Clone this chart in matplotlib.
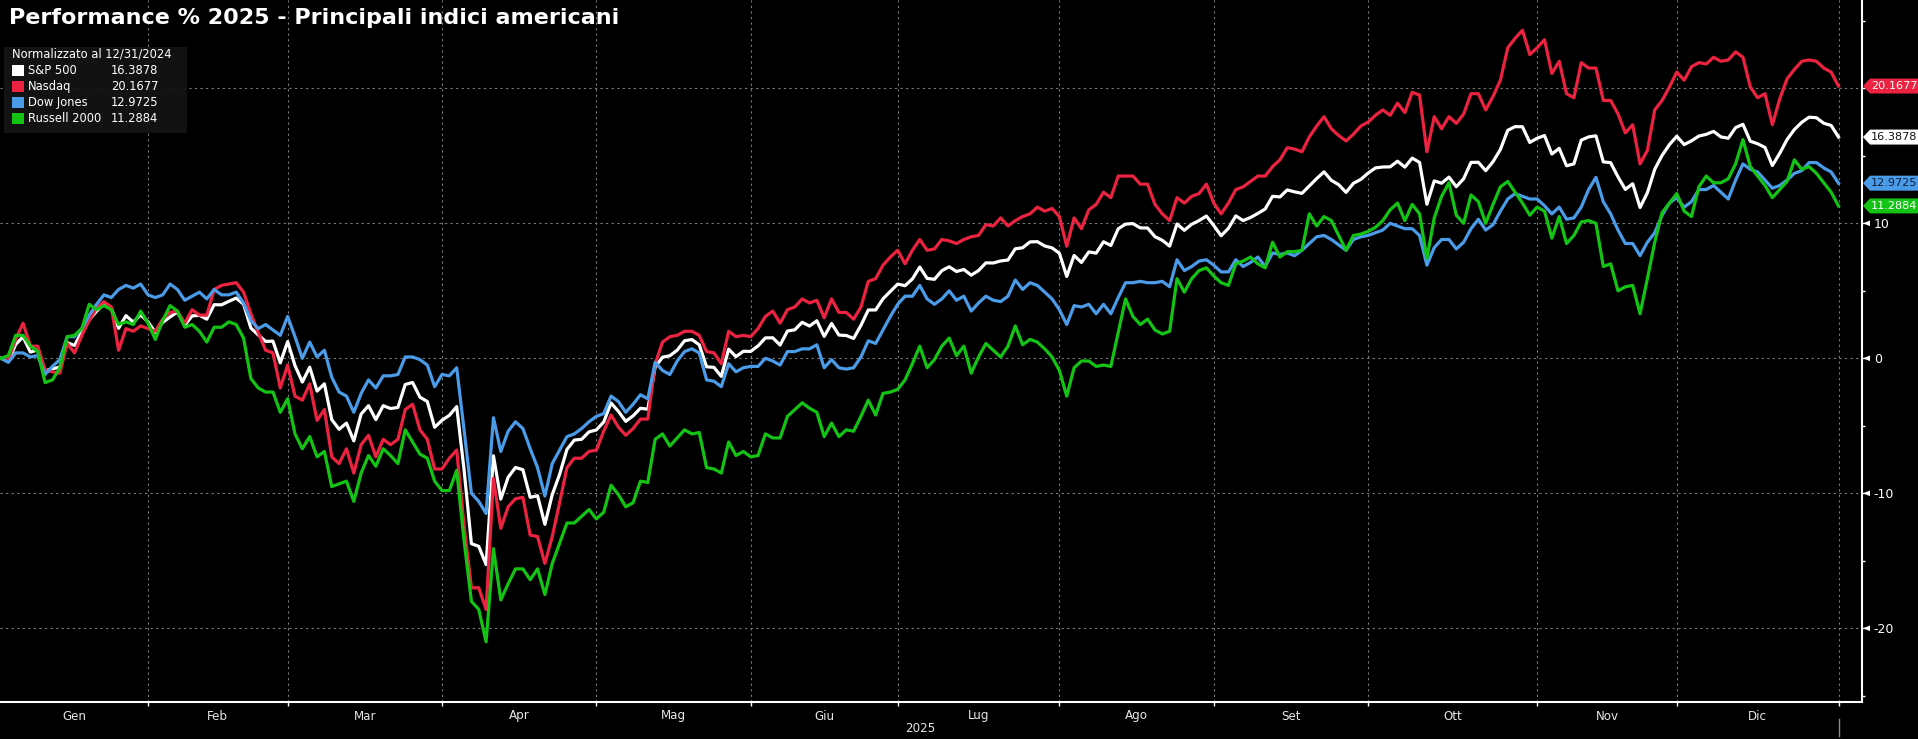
#!/usr/bin/env python3
"""
Performance % 2025 - Principali indici americani

Dark, terminal-style chart of the 2025 performance of the main US indices,
normalised to the close of 12/31/2024 (one point per trading day).
"""

import matplotlib
matplotlib.use("Agg")
import matplotlib.pyplot as plt
import numpy as np
import pandas as pd
from matplotlib import font_manager
from matplotlib.patches import Polygon, Rectangle
from matplotlib.transforms import IdentityTransform, blended_transform_factory

TITLE = "Performance % 2025 - Principali indici americani"
LEGEND_HEADER = "Normalizzato al 12/31/2024"
NAMES = ["S&P 500", "Nasdaq", "Dow Jones", "Russell 2000"]
LAST_LABELS = ["16.3878", "20.1677", "12.9725", "11.2884"]
MONTHS = ["Gen", "Feb", "Mar", "Apr", "Mag", "Giu", "Lug", "Ago", "Set", "Ott", "Nov", "Dic"]
YEAR = "2025"
Y_LABELED = [-20, -10, 0, 10]
Y_GRID = [-20, -10, 0, 10, 20]

# NYSE closed on these days
HOLIDAYS = ["2025-01-01", "2025-01-09", "2025-01-20", "2025-02-17", "2025-04-18",
            "2025-05-26", "2025-06-19", "2025-07-04", "2025-09-01", "2025-11-27",
            "2025-12-25"]

# % change vs 12/31/2024, one value per trading day (one line per month)
spx = [0.0,
       -0.22, 1.03, 1.59, 0.46, 0.62, -0.93, -0.77, -0.66, 1.16, 0.95, 1.96, 2.85, 3.48, 4.03, 3.73, 2.22, 3.16, 2.68, 3.22, 2.70,
       1.92, 2.66, 3.06, 3.43, 2.45, 3.14, 3.18, 2.90, 3.97, 3.96, 4.22, 4.46, 4.01, 2.24, 1.73, 1.25, 1.27, -0.34, 1.24,
       -0.54, -1.76, -0.66, -2.43, -1.89, -4.54, -5.26, -4.80, -6.12, -4.13, -3.51, -4.54, -3.51, -3.72, -3.64, -1.94, -1.79, -2.88, -3.20, -5.11, -4.59,
       -4.23, -3.58, -8.25, -13.73, -13.93, -15.28, -7.22, -10.43, -8.81, -8.09, -8.25, -10.30, -10.18, -12.30, -10.10, -8.60, -6.75, -6.06, -6.00, -5.45, -5.31,
       -4.72, -3.31, -3.93, -4.67, -4.26, -3.70, -3.77, -0.64, 0.08, 0.19, 0.60, 1.30, 1.39, 1.00, -0.63, -0.67, -1.34, 0.68, 0.12, 0.52, 0.51,
       0.92, 1.51, 1.52, 0.98, 2.02, 2.11, 2.67, 2.39, 2.78, 1.62, 2.58, 1.72, 1.69, 1.47, 2.44, 3.58, 3.58, 4.41, 4.95, 5.50,
       5.38, 5.88, 6.76, 5.92, 5.85, 6.49, 6.78, 6.43, 6.58, 6.16, 6.50, 7.07, 7.06, 7.21, 7.28, 8.11, 8.19, 8.62, 8.64, 8.32, 8.18, 7.78,
       6.06, 7.62, 7.10, 7.88, 7.79, 8.63, 8.36, 9.59, 9.94, 9.98, 9.66, 9.65, 9.01, 8.74, 8.31, 9.95, 9.48, 9.93, 10.20, 10.54, 9.84,
       9.08, 9.63, 10.55, 10.20, 10.43, 10.73, 11.06, 12.00, 11.95, 12.47, 12.33, 12.22, 12.76, 13.31, 13.81, 13.18, 12.86, 12.29, 12.96, 13.25, 13.72,
       14.10, 14.17, 14.18, 14.60, 14.16, 14.83, 14.51, 11.41, 13.14, 12.97, 13.42, 12.71, 13.30, 14.51, 14.52, 13.90, 14.57, 15.47, 16.89, 17.16, 17.15, 15.99, 16.30,
       16.50, 15.13, 15.55, 14.26, 14.40, 16.16, 16.40, 16.48, 14.55, 14.49, 13.44, 12.51, 12.93, 11.17, 12.26, 14.00, 15.03, 15.83, 16.45,
       15.83, 16.11, 16.46, 16.59, 16.81, 16.40, 16.30, 17.09, 17.33, 16.08, 15.89, 15.62, 14.28, 15.18, 16.20, 16.95, 17.48, 17.86, 17.82, 17.41, 17.25, 16.3878]

ndx = [0.0,
       -0.1, 1.4, 2.6, 0.9, 0.9, -0.9, -1.0, -1.1, 1.1, 0.4, 1.7, 2.8, 3.7, 4.2, 3.8, 0.6, 2.2, 2.0, 2.4, 2.2,
       2.0, 2.9, 3.4, 3.5, 2.6, 3.6, 3.2, 3.2, 5.1, 5.4, 5.5, 5.6, 4.9, 3.3, 1.9, 0.6, 0.4, -2.2, -0.5,
       -2.8, -3.1, -1.9, -4.6, -3.8, -7.3, -7.8, -6.7, -8.5, -6.4, -5.7, -7.3, -6.0, -6.4, -6.0, -3.8, -3.4, -5.3, -6.0, -8.2, -8.2,
       -7.4, -6.8, -12.4, -17.0, -17.0, -18.6, -8.9, -12.6, -11.0, -10.4, -10.3, -13.1, -13.2, -15.2, -13.2, -10.7, -8.1, -7.4, -7.4, -6.9, -6.8,
       -5.4, -4.2, -5.1, -5.7, -5.2, -4.5, -4.5, -0.4, 1.2, 1.6, 1.7, 2.0, 2.0, 1.7, 0.5, 0.4, -0.4, 2.0, 1.6, 1.7, 1.6,
       2.2, 3.1, 3.5, 2.6, 3.6, 3.8, 4.4, 4.1, 4.3, 3.0, 4.4, 3.4, 3.4, 2.9, 3.8, 5.7, 5.9, 6.9, 7.5, 8.0,
       7.0, 8.0, 8.8, 8.0, 8.1, 8.8, 8.7, 8.5, 8.8, 9.0, 9.1, 9.9, 9.8, 10.4, 9.8, 10.2, 10.5, 10.7, 11.2, 10.9, 11.1, 10.5,
       8.3, 10.4, 9.6, 11.0, 11.4, 12.3, 11.9, 13.5, 13.5, 13.5, 12.9, 12.9, 11.4, 10.7, 10.2, 11.9, 11.5, 12.0, 12.2, 12.9, 11.5,
       10.7, 11.5, 12.5, 12.7, 13.1, 13.5, 13.5, 14.2, 14.7, 15.6, 15.5, 15.3, 16.4, 17.2, 17.9, 17.0, 16.5, 16.1, 16.6, 17.2, 17.5,
       18.0, 18.4, 18.0, 18.9, 18.2, 19.7, 19.5, 15.3, 17.9, 17.0, 17.9, 17.4, 18.1, 19.6, 19.6, 18.4, 19.4, 20.6, 23.0, 23.7, 24.3, 22.5, 23.0,
       23.6, 21.1, 22.0, 19.6, 19.3, 21.9, 21.5, 21.5, 19.1, 19.1, 18.1, 16.7, 17.3, 14.4, 15.4, 18.4, 19.1, 20.1, 21.2,
       20.6, 21.6, 21.9, 21.8, 22.3, 22.0, 22.1, 22.7, 22.3, 20.1, 19.3, 19.6, 17.3, 19.2, 20.7, 21.4, 22.0, 22.1, 22.0, 21.5, 21.2, 20.1677]

dji = [0.0,
       -0.3, 0.4, 0.4, 0.1, 0.2, -1.2, -0.6, -0.1, 1.6, 1.6, 2.2, 3.2, 4.0, 4.7, 4.5, 5.1, 5.4, 5.2, 5.5, 4.7,
       4.5, 4.7, 5.5, 5.1, 4.3, 4.6, 4.9, 4.4, 5.1, 4.7, 4.7, 4.9, 4.1, 2.8, 2.2, 2.5, 2.1, 1.7, 3.1,
       1.6, 0.0, 1.2, 0.1, 0.6, -1.4, -2.5, -2.8, -4.0, -2.6, -1.6, -2.2, -1.3, -1.3, -1.2, 0.1, 0.1, -0.1, -0.5, -2.1, -1.2,
       -1.3, -0.7, -5.3, -10.0, -10.6, -11.5, -4.4, -6.9, -5.4, -4.7, -5.2, -6.7, -8.1, -10.2, -7.8, -6.8, -5.8, -5.6, -5.2, -4.7, -4.3,
       -4.1, -2.8, -3.2, -4.0, -3.4, -2.7, -3.0, -0.3, -0.9, -1.2, -0.2, 0.5, 0.7, 0.4, -1.6, -1.7, -2.1, -0.4, -1.0, -0.7, -0.6,
       -0.6, 0.0, -0.2, -0.5, 0.5, 0.5, 0.7, 0.7, 1.0, -0.7, -0.1, -0.7, -0.8, -0.7, 0.1, 1.3, 1.1, 2.1, 3.1, 4.0,
       4.6, 4.6, 5.4, 4.4, 4.0, 4.4, 5.0, 4.3, 4.6, 3.5, 4.1, 4.6, 4.3, 4.2, 4.6, 5.8, 5.1, 5.6, 5.4, 4.9, 4.4, 3.6,
       2.5, 3.9, 3.8, 4.0, 3.3, 4.0, 3.3, 4.5, 5.6, 5.6, 5.7, 5.6, 5.6, 5.7, 5.3, 7.3, 6.5, 6.8, 7.2, 7.3, 6.9,
       6.4, 6.4, 7.3, 6.8, 7.1, 7.5, 6.8, 7.8, 7.7, 7.8, 7.6, 8.0, 8.5, 9.0, 9.1, 8.8, 8.4, 8.0, 8.8, 9.0, 9.1,
       9.3, 9.5, 10.0, 9.8, 9.6, 9.6, 9.1, 6.9, 8.2, 8.8, 8.8, 8.1, 8.6, 9.6, 10.3, 9.5, 9.9, 10.9, 11.8, 12.2, 12.0, 11.8, 11.8,
       11.3, 10.7, 11.2, 10.3, 10.4, 11.2, 12.5, 13.4, 11.6, 10.7, 9.5, 8.5, 8.5, 7.6, 8.6, 9.3, 10.6, 11.5, 11.9,
       11.2, 11.6, 12.5, 12.5, 12.8, 12.3, 11.8, 13.2, 14.4, 14.0, 13.8, 13.2, 12.6, 12.8, 13.2, 13.7, 13.9, 14.5, 14.5, 14.1, 13.8, 12.9725]

rut = [0.0,
       0.2, 1.7, 1.7, 0.9, 0.5, -1.8, -1.6, -0.7, 1.6, 1.7, 2.2, 4.0, 3.6, 3.9, 3.6, 2.5, 2.7, 2.5, 3.5, 2.6,
       1.4, 2.8, 3.9, 3.5, 2.3, 2.5, 2.0, 1.2, 2.3, 2.3, 2.7, 2.5, 1.5, -1.5, -2.2, -2.5, -2.5, -4.0, -3.0,
       -5.6, -6.7, -5.8, -7.3, -6.9, -9.5, -9.3, -9.1, -10.6, -8.5, -7.2, -8.0, -6.7, -7.2, -7.8, -5.3, -6.2, -7.1, -7.4, -9.1, -9.8,
       -9.8, -8.3, -13.5, -18.0, -18.6, -21.0, -14.1, -17.9, -16.7, -15.6, -15.6, -16.4, -15.6, -17.5, -15.2, -13.7, -12.2, -12.2, -11.7, -11.2, -11.9,
       -11.4, -9.4, -10.1, -11.0, -10.7, -9.1, -9.2, -6.0, -5.6, -6.5, -5.9, -5.3, -5.6, -5.5, -8.1, -8.2, -8.5, -6.2, -7.2, -6.9, -7.3,
       -7.2, -5.6, -5.9, -5.9, -4.3, -3.8, -3.3, -3.7, -4.0, -5.8, -4.8, -5.8, -5.3, -5.4, -4.3, -3.1, -4.2, -2.6, -2.5, -2.3,
       -1.6, -0.4, 0.9, -0.7, -0.1, 0.9, 1.5, 0.2, 0.9, -1.1, 0.1, 1.1, 0.6, 0.1, 0.9, 2.4, 1.0, 1.4, 1.2, 0.7, 0.1, -0.9,
       -2.8, -0.7, -0.2, -0.2, -0.6, -0.5, -0.6, 1.9, 4.4, 3.1, 2.5, 2.9, 2.1, 1.8, 2.0, 5.9, 4.9, 5.9, 6.5, 6.7, 6.1,
       5.6, 5.4, 7.0, 7.2, 7.5, 7.0, 6.7, 8.6, 7.5, 7.9, 7.9, 8.0, 10.7, 9.8, 10.5, 10.2, 9.1, 8.0, 9.1, 9.2, 9.4,
       9.7, 10.2, 11.0, 11.5, 10.2, 11.4, 10.7, 7.4, 10.4, 12.0, 13.0, 10.6, 10.0, 12.1, 11.6, 10.0, 11.4, 12.7, 13.1, 12.3, 11.5, 10.6, 11.2,
       10.9, 8.9, 10.5, 8.5, 9.1, 10.1, 10.2, 10.0, 6.8, 7.0, 5.0, 5.3, 5.4, 3.3, 5.9, 8.6, 10.8, 11.5, 12.2,
       10.9, 10.5, 12.7, 13.5, 13.0, 13.0, 13.3, 14.4, 16.2, 14.2, 13.5, 12.8, 11.9, 12.5, 13.1, 14.7, 14.0, 14.2, 13.7, 13.0, 12.3, 11.2884]

SERIES = [spx, ndx, dji, rut]
COLORS = ["#ffffff", "#ec2340", "#4a9be8", "#14c414"]
TAG_TEXT = ["#111111", "#ffffff", "#0d1f3a", "#ffffff"]
GRID = "#7a7a7a"

W, H = 1918, 739          # output size in pixels (dpi 100)
PLOT_RIGHT = 1862         # right spine, px
PLOT_BOTTOM = 702         # bottom spine, px from top
PX_PER_DAY = 7.35
ZERO_Y = 358.3            # px from top where the 0 line sits
PX_PER_UNIT = 13.5

fonts = {f.name for f in font_manager.fontManager.ttflist}
if "Liberation Sans Narrow" in fonts:
    NARROW, TAG_SIZE, TICK_SIZE, MONTH_SIZE = "Liberation Sans Narrow", 10, 10, 9.5
else:
    NARROW, TAG_SIZE, TICK_SIZE, MONTH_SIZE = "DejaVu Sans", 8.1, 9, 8.6

# trading calendar
days = pd.bdate_range("2024-12-31", "2025-12-31")
days = days[~days.isin(pd.to_datetime(HOLIDAYS))]
x = np.arange(len(days))
for s in SERIES:
    assert len(s) == len(days), len(s)

in_year = pd.Series(x, index=days)[days.year == 2025]
month_end = in_year.groupby(in_year.index.month).max().values
month_mid = (np.concatenate([[0], month_end[:-1]]) + month_end) / 2

fig = plt.figure(figsize=(W / 100, H / 100), dpi=100, facecolor="black")
ax = fig.add_axes([0, (H - PLOT_BOTTOM) / H, PLOT_RIGHT / W, PLOT_BOTTOM / H])
ax.set_facecolor("black")
ax.set_xlim(-1 / PX_PER_DAY, (PLOT_RIGHT - 1) / PX_PER_DAY)
ax.set_ylim((ZERO_Y - PLOT_BOTTOM) / PX_PER_UNIT, ZERO_Y / PX_PER_UNIT)

# dotted grid
for v in Y_GRID:
    ax.axhline(v, color=GRID, lw=0.8, ls=(0, (2, 3)), zorder=1)
for m in month_end:
    ax.axvline(m, color=GRID, lw=0.8, ls=(0, (2, 3)), zorder=1)

for s, c in zip(SERIES, COLORS):
    ax.plot(x, s, color=c, lw=2.3, zorder=3)

for side in ["left", "top"]:
    ax.spines[side].set_visible(False)
for side in ["right", "bottom"]:
    ax.spines[side].set_color("white")
    ax.spines[side].set_linewidth(1.5)

# right axis
ax.yaxis.tick_right()
yticks = np.arange(-25, 26, 5)
ax.set_yticks(yticks)
ax.set_yticklabels([f"{v}" if v in Y_LABELED else "" for v in yticks])
ax.tick_params(axis="y", colors="white", length=2.5, width=1, pad=6,
               labelsize=TICK_SIZE)
for lbl in ax.get_yticklabels():
    lbl.set_family(NARROW)

ax.set_xticks(month_end)
ax.set_xticklabels([])
ax.tick_params(axis="x", colors="white", length=3, width=1)

# month names and year under the axis
xt = blended_transform_factory(ax.transData, fig.transFigure)
for mid, name in zip(month_mid, MONTHS):
    ax.text(mid, 1 - 716 / H, name, transform=xt, ha="center", va="center",
            color="#e6e6e6", fontsize=MONTH_SIZE, family=NARROW)
ax.text(x[-1] / 2, 1 - 729 / H, YEAR, transform=xt, ha="center", va="center",
        color="#e6e6e6", fontsize=MONTH_SIZE, family=NARROW)
ax.plot([x[-1], x[-1]], [1 - 719 / H, 1 - 736 / H], transform=xt,
        color="#8a8a8a", lw=1, clip_on=False)

# pixel positions for the marker triangles and the value tags
ident = IdentityTransform()
spine_x = ax.transAxes.transform((1, 0))[0]
for v in Y_LABELED:
    yd = ax.transData.transform((0, v))[1]
    fig.add_artist(Polygon([(spine_x + 1, yd), (spine_x + 8, yd + 2.8), (spine_x + 8, yd - 2.8)],
                           closed=True, fc="white", ec="none", transform=ident))

for s, c, tc, lab in zip(SERIES, COLORS, TAG_TEXT, LAST_LABELS):
    yd = ax.transData.transform((0, s[-1]))[1]
    fig.add_artist(Polygon([(spine_x + 1, yd), (spine_x + 8, yd + 7.5), (W, yd + 7.5),
                            (W, yd - 7.5), (spine_x + 8, yd - 7.5)],
                           closed=True, fc=c, ec="none", transform=ident))
    fig.text((spine_x + 9) / W, yd / H, lab, ha="left", va="center",
             color=tc, fontsize=TAG_SIZE, family=NARROW)

# title
title = fig.text(9 / W, 1 - 23.5 / H, TITLE, ha="left", va="baseline",
                 color="white", fontsize=16, fontweight="bold", family="DejaVu Sans")

# legend box
fig.add_artist(Rectangle((4 / W, 1 - 132.7 / H), 183 / W, 86 / H,
                         transform=fig.transFigure, fc="#141414", ec="none", alpha=0.92))
fig.text(11.7 / W, 1 - 54 / H, LEGEND_HEADER, ha="left", va="center",
         color="white", fontsize=8.3, family="DejaVu Sans")
rows_y = [70.7, 86.5, 102.3, 118.2]
for ry, name, c, lab in zip(rows_y, NAMES, COLORS, LAST_LABELS):
    fig.add_artist(Rectangle((11.7 / W, 1 - (ry + 5.5) / H), 12 / W, 11 / H,
                             transform=fig.transFigure, fc=c, ec="none"))
    fig.text(28.3 / W, 1 - ry / H, name, ha="left", va="center",
             color="white", fontsize=8.3, family="DejaVu Sans")
    fig.text(111 / W, 1 - ry / H, lab, ha="left", va="center",
             color="white", fontsize=8.3, family="DejaVu Sans")

# scale the title so it spans the same width as in the original
fig.canvas.draw()
w = title.get_window_extent(renderer=fig.canvas.get_renderer()).width
title.set_fontsize(16 * 613 / w)

fig.savefig("out.png", dpi=100, facecolor="black")
